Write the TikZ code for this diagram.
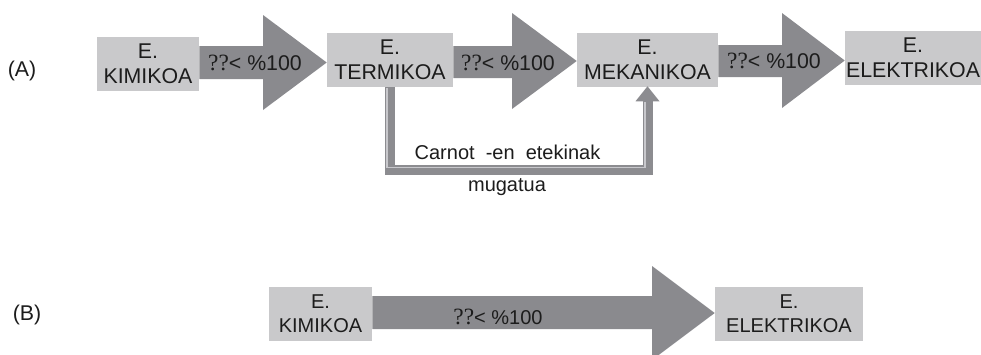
\documentclass[tikz,border=0pt]{standalone}
\usepackage{fontspec}
\setmainfont{Liberation Sans}
\newfontfamily\qfont{Liberation Serif}
\definecolor{boxgray}{RGB}{201,201,203}
\definecolor{arrowgray}{RGB}{138,138,142}
\definecolor{loopgray}{RGB}{140,140,144}
\definecolor{loophi}{RGB}{200,200,204}
\definecolor{ink}{RGB}{28,28,28}
\newcommand{\qmarks}{{\qfont\fontsize{17.5}{19}\selectfont ??}}
\begin{document}
\begin{tikzpicture}[x=0.75pt,y=-0.75pt,
  box/.style={fill=boxgray, inner sep=0pt, align=center, text=ink},
  boxA/.style={box, font=\fontsize{16}{18.75}\selectfont, minimum height=54*0.75pt},
  boxB/.style={box, font=\fontsize{15}{18}\selectfont, minimum height=54*0.75pt},
  blockarrow/.style={fill=arrowgray},
  lblA/.style={text=ink, inner sep=0pt, font=\fontsize{16}{19}\selectfont},
  lblB/.style={text=ink, inner sep=0pt, font=\fontsize{15}{18}\selectfont},
  loopline/.style={draw=loopgray, line width=7.5pt, line join=miter},
  loopshine/.style={draw=loophi, line width=0.9pt},
  looptext/.style={text=ink, inner sep=0pt, font=\fontsize{15}{18}\selectfont},
  tag/.style={text=ink, inner sep=0pt, font=\fontsize{16}{19}\selectfont}]
\useasboundingbox (0,0) rectangle (981,354);

% (A) chain of energy forms
\node[tag] (ta) at (22,71) {(A)};
\node[boxA, minimum width=102*0.75pt] (k1) at (148,63.5) {E.\\KIMIKOA};
\node[boxA, minimum width=126*0.75pt] (t1) at (390,60) {E.\\TERMIKOA};
\node[boxA, minimum width=141*0.75pt] (m1) at (647.5,60) {E.\\MEKANIKOA};
\node[boxA, minimum width=136*0.75pt] (e1) at (913,58) {E.\\ELEKTRIKOA};

\fill[blockarrow] (k1.east |- 0,46) -- (263,46) -- (263,15) -- (t1.west |- 0,62.5)
  -- (263,110) -- (263,79) -- (k1.east |- 0,79) -- cycle;
\fill[blockarrow] (t1.east |- 0,46) -- (512,46) -- (512,13) -- (m1.west |- 0,61)
  -- (512,109) -- (512,78) -- (t1.east |- 0,78) -- cycle;
\fill[blockarrow] (m1.east |- 0,45) -- (782,45) -- (782,13) -- (e1.west |- 0,60.5)
  -- (782,108) -- (782,77) -- (m1.east |- 0,77) -- cycle;

\node[lblA] (l1) at (255,63) {\qmarks< \%100};
\node[lblA] (l2) at (508,63) {\qmarks< \%100};
\node[lblA] (l3) at (774,61) {\qmarks< \%100};

% Carnot loop from the thermal to the mechanical box
\draw[loopline] (t1.south) |- ([yshift=-82.5*0.75pt]m1.south) -- ([shift={(0,14)}]m1.south);
\fill[loopgray] ([shift={(-12,14)}]m1.south) -- ([shift={(12,14)}]m1.south) -- ([yshift=0.75pt]m1.south) -- cycle;
\draw[loopshine] ([shift={(-3,1)}]t1.south) |- ([shift={(-2.5,80)}]m1.south) -- ([shift={(-2.5,15)}]m1.south);

\node[looptext] (c1) at (507.5,152) {Carnot\ \ -en\ \ etekinak};
\node[looptext] (c2) at (507,187) {mugatua};

% (B) direct conversion
\node[tag] (tb) at (27,315) {(B)};
\node[boxB, minimum width=103*0.75pt] (k2) at (320.5,314) {E.\\KIMIKOA};
\node[boxB, minimum width=148*0.75pt] (e2) at (789,314) {E.\\ELEKTRIKOA};
\fill[blockarrow] (k2.east |- 0,296) -- (652,296) -- (652,266) -- (e2.west |- 0,313)
  -- (652,360) -- (652,329) -- (k2.east |- 0,329) -- cycle;
\node[lblB] (l4) at (498,317) {\qmarks< \%100};
\end{tikzpicture}
\end{document}
